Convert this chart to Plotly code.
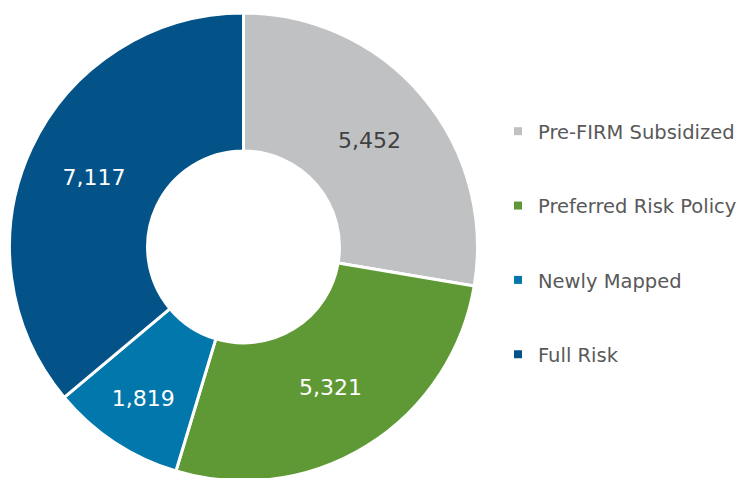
import plotly.graph_objects as go

categories = ["Pre-FIRM Subsidized", "Preferred Risk Policy", "Newly Mapped", "Full Risk"]
values = [5452, 5321, 1819, 7117]
colors = ["#C0C1C3", "#5F9935", "#0277AC", "#035388"]
text_colors = ["#404040", "#FFFFFF", "#FFFFFF", "#FFFFFF"]

FONT = "DejaVu Sans"

fig = go.Figure()
fig.add_trace(go.Pie(
    labels=categories,
    values=values,
    sort=False,
    direction="clockwise",
    rotation=0,
    hole=0.41,
    marker=dict(colors=colors, line=dict(color="white", width=3)),
    texttemplate="%{value:,}",
    textinfo="value",
    textposition="inside",
    insidetextorientation="horizontal",
    textfont=dict(family=FONT, size=22, color=text_colors),
    domain=dict(x=[0.002, 0.626], y=[0, 1]),
    showlegend=False,
))

for i, (cat, col) in enumerate(zip(categories, colors)):
    fig.add_trace(go.Scatter(
        x=[None], y=[None], mode="markers", name=cat,
        marker=dict(symbol="square", size=8, color=col),
        legendgroup=f"g{i}", showlegend=True,
    ))

fig.update_layout(
    width=750, height=478,
    margin=dict(l=0, r=0, t=5, b=5),
    paper_bgcolor="white", plot_bgcolor="white",
    xaxis=dict(visible=False), yaxis=dict(visible=False),
    legend=dict(
        x=0.6533, xanchor="left", y=0.5085, yanchor="middle",
        font=dict(family=FONT, size=19.5, color="#595959"),
        tracegroupgap=46, bgcolor="rgba(0,0,0,0)",
    ),
    showlegend=True,
)

fig.write_html("out.html")
